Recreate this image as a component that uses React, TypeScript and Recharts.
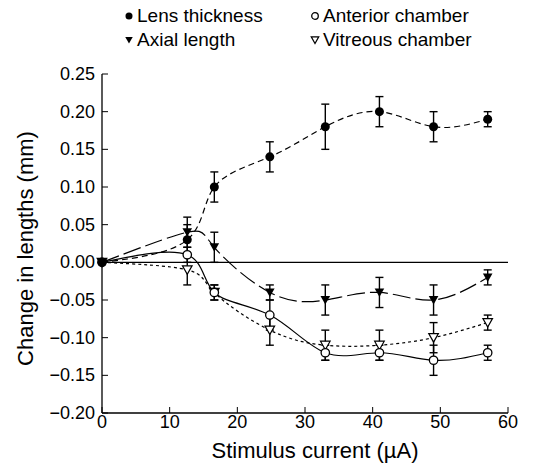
import React from 'react'
import {
  ComposedChart,
  Line,
  XAxis,
  YAxis,
  ErrorBar,
  ReferenceLine,
} from 'recharts'

const FONT = '"Liberation Sans", Arial, Helvetica, sans-serif'

// stimulus current (µA)
const CURRENT = [0, 12.6, 16.6, 24.8, 33, 41, 49, 57]

const LENS = [0, 0.03, 0.1, 0.14, 0.18, 0.2, 0.18, 0.19]
const LENS_ERR = [0, 0.02, 0.02, 0.02, 0.03, 0.02, 0.02, 0.01]

const AXIAL = [0, 0.04, 0.02, -0.04, -0.05, -0.04, -0.05, -0.02]
const AXIAL_ERR = [0, 0.02, 0.02, 0.01, 0.02, 0.02, 0.02, 0.01]

const ANTERIOR = [0, 0.01, -0.04, -0.07, -0.12, -0.12, -0.13, -0.12]
const ANTERIOR_ERR = [0, 0.01, 0.01, 0.02, 0.01, 0.01, 0.02, 0.01]

const VITREOUS = [0, -0.01, -0.04, -0.09, -0.11, -0.11, -0.1, -0.08]
const VITREOUS_ERR = [0, 0.02, 0.01, 0.02, 0.02, 0.02, 0.02, 0.01]

const X_TICKS = [0, 10, 20, 30, 40, 50, 60]
const Y_TICKS = [-0.2, -0.15, -0.1, -0.05, 0, 0.05, 0.1, 0.15, 0.2, 0.25]

const rows = CURRENT.map((x, i) => ({
  x,
  lens: LENS[i],
  lensErr: LENS_ERR[i],
  axial: AXIAL[i],
  axialErr: AXIAL_ERR[i],
  ant: ANTERIOR[i],
  antErr: ANTERIOR_ERR[i],
  vit: VITREOUS[i],
  vitErr: VITREOUS_ERR[i],
}))

const fmtY = (v: number) => v.toFixed(2).replace('-', '\u2212')

type Shape = 'disc' | 'ring' | 'tri' | 'openTri'

function Marker({ cx, cy, shape, s = 1 }: { cx: number; cy: number; shape: Shape; s?: number }) {
  if (cx == null || cy == null) return null
  if (shape === 'disc') return <circle cx={cx} cy={cy} r={4.5 * s} fill="#000" />
  if (shape === 'ring')
    return <circle cx={cx} cy={cy} r={4.2 * s} fill="#fff" stroke="#000" strokeWidth={1.3} />
  const w = 4.8 * s
  const pts = `${cx - w},${cy - 4 * s} ${cx + w},${cy - 4 * s} ${cx},${cy + 4.5 * s}`
  if (shape === 'tri') return <polygon points={pts} fill="#000" />
  return <polygon points={pts} fill="#fff" stroke="#000" strokeWidth={1.2} />
}

const dotFor = (shape: Shape, name: string) => (p: any) => (
  <Marker key={`${name}-${p.index}`} cx={p.cx} cy={p.cy} shape={shape} />
)

function LeftTick({ x, y, payload }: any) {
  return (
    <g>
      <line x1={x} y1={y} x2={x + 6} y2={y} stroke="#000" />
      <text x={x - 7} y={y} dy={6} textAnchor="end" fontSize={18} fontFamily={FONT} fill="#000">
        {fmtY(payload.value)}
      </text>
    </g>
  )
}

function BottomTick({ x, y, payload }: any) {
  return (
    <g>
      <line x1={x} y1={y} x2={x} y2={y - 6} stroke="#000" />
      <text x={x} y={y + 15} textAnchor="middle" fontSize={18} fontFamily={FONT} fill="#000">
        {payload.value}
      </text>
    </g>
  )
}

const TopTick = ({ x, y }: any) => <line x1={x} y1={y} x2={x} y2={y + 6} stroke="#000" />
const RightTick = ({ x, y }: any) => <line x1={x} y1={y} x2={x - 6} y2={y} stroke="#000" />

function YTitle({ viewBox }: any) {
  const cx = viewBox.x + 25
  const cy = viewBox.y + viewBox.height / 2 + 5
  return (
    <text
      x={cx}
      y={cy}
      transform={`rotate(-90 ${cx} ${cy})`}
      textAnchor="middle"
      dominantBaseline="central"
      fontSize={22}
      fontFamily={FONT}
      fill="#000"
    >
      Change in lengths (mm)
    </text>
  )
}

function XTitle({ viewBox }: any) {
  return (
    <text
      x={viewBox.x + viewBox.width / 2 + 10}
      y={viewBox.y + 45}
      textAnchor="middle"
      fontSize={22}
      fontFamily={FONT}
      fill="#000"
    >
      Stimulus current (µA)
    </text>
  )
}

const LEGEND: { label: string; shape: Shape; left: number; top: number }[] = [
  { label: 'Lens thickness', shape: 'disc', left: 124, top: 4 },
  { label: 'Axial length', shape: 'tri', left: 124, top: 28 },
  { label: 'Anterior chamber', shape: 'ring', left: 310, top: 4 },
  { label: 'Vitreous chamber', shape: 'openTri', left: 310, top: 28 },
]

function LegendBlock() {
  return (
    <>
      {LEGEND.map((item) => (
        <div
          key={item.label}
          style={{
            position: 'absolute',
            left: item.left,
            top: item.top,
            display: 'flex',
            alignItems: 'center',
            gap: 3,
            fontFamily: FONT,
            fontSize: 19,
            lineHeight: '24px',
            color: '#000',
            whiteSpace: 'nowrap',
          }}
        >
          <svg width={10} height={10}>
            <Marker cx={5} cy={5} shape={item.shape} s={0.78} />
          </svg>
          <span>{item.label}</span>
        </div>
      ))}
    </>
  )
}

export default function App() {
  return (
    <div style={{ position: 'absolute', left: 0, top: 0, width: 545, height: 470, background: '#fff' }}>
      <ComposedChart
        width={545}
        height={470}
        data={rows}
        margin={{ top: 74, right: 37, bottom: 0, left: 0 }}
      >
        <XAxis
          dataKey="x"
          type="number"
          domain={[0, 60]}
          ticks={X_TICKS}
          interval={0}
          height={57}
          tickSize={0}
          tickMargin={0}
          tickLine={false}
          tick={<BottomTick />}
          axisLine={{ stroke: '#000', strokeWidth: 1.3 }}
          label={<XTitle />}
        />
        <XAxis
          xAxisId="top"
          orientation="top"
          dataKey="x"
          type="number"
          domain={[0, 60]}
          allowDataOverflow
          ticks={X_TICKS}
          interval={0}
          height={0}
          tickSize={0}
          tickMargin={0}
          tickLine={false}
          tick={<TopTick />}
          axisLine={{ stroke: '#000', strokeWidth: 1.3 }}
        />
        <YAxis
          type="number"
          domain={[-0.2, 0.25]}
          ticks={Y_TICKS}
          interval={0}
          width={102}
          tickSize={0}
          tickMargin={0}
          tickLine={false}
          tick={<LeftTick />}
          axisLine={{ stroke: '#000', strokeWidth: 1.3 }}
          label={<YTitle />}
        />
        <YAxis
          yAxisId="right"
          orientation="right"
          type="number"
          domain={[-0.2, 0.25]}
          allowDataOverflow
          ticks={Y_TICKS}
          interval={0}
          width={0}
          tickSize={0}
          tickMargin={0}
          tickLine={false}
          tick={<RightTick />}
          axisLine={{ stroke: '#000', strokeWidth: 1.3 }}
        />
        <ReferenceLine y={0} stroke="#000" strokeWidth={1.2} />

        <Line
          dataKey="vit"
          type="natural"
          stroke="#000"
          strokeWidth={1.2}
          strokeDasharray="3 3"
          dot={dotFor('openTri', 'vit')}
          activeDot={false}
          isAnimationActive={false}
        >
          <ErrorBar dataKey="vitErr" direction="y" width={4} stroke="#000" strokeWidth={1.4} />
        </Line>
        <Line
          dataKey="ant"
          type="natural"
          stroke="#000"
          strokeWidth={1.2}
          dot={dotFor('ring', 'ant')}
          activeDot={false}
          isAnimationActive={false}
        >
          <ErrorBar dataKey="antErr" direction="y" width={4} stroke="#000" strokeWidth={1.4} />
        </Line>
        <Line
          dataKey="axial"
          type="natural"
          stroke="#000"
          strokeWidth={1.2}
          strokeDasharray="18 5"
          dot={dotFor('tri', 'axial')}
          activeDot={false}
          isAnimationActive={false}
        >
          <ErrorBar dataKey="axialErr" direction="y" width={4} stroke="#000" strokeWidth={1.4} />
        </Line>
        <Line
          dataKey="lens"
          type="natural"
          stroke="#000"
          strokeWidth={1.2}
          strokeDasharray="6 4"
          dot={dotFor('disc', 'lens')}
          activeDot={false}
          isAnimationActive={false}
        >
          <ErrorBar dataKey="lensErr" direction="y" width={4} stroke="#000" strokeWidth={1.4} />
        </Line>
      </ComposedChart>
      <LegendBlock />
    </div>
  )
}
